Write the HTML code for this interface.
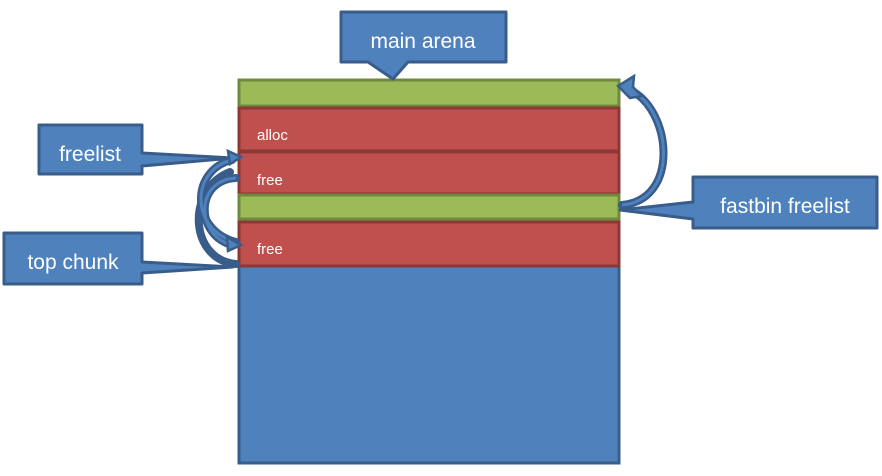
<!DOCTYPE html>
<html><head><style>body{margin:0;background:#fff}svg{display:block}</style></head><body>
<svg width="882" height="476" viewBox="0 0 882 476" xmlns="http://www.w3.org/2000/svg" font-family="Liberation Sans, sans-serif">
<rect x="239" y="266" width="380" height="197" fill="#4f81bd" stroke="#385d8a" stroke-width="3"/>
<rect x="239" y="80" width="380" height="26" fill="#9bbb59" stroke="#71893f" stroke-width="3"/>
<rect x="239" y="108" width="380" height="43" fill="#c0504d" stroke="#8c3836" stroke-width="3"/>
<rect x="239" y="152" width="380" height="42" fill="#c0504d" stroke="#8c3836" stroke-width="3"/>
<rect x="239" y="195" width="380" height="24" fill="#9bbb59" stroke="#71893f" stroke-width="3"/>
<rect x="239" y="222" width="380" height="44" fill="#c0504d" stroke="#8c3836" stroke-width="3"/>
<text x="257" y="140" font-size="15" fill="#fff">alloc</text>
<text x="257" y="185" font-size="15" fill="#fff">free</text>
<text x="257" y="254" font-size="15" fill="#fff">free</text>
<path d="M341,12 H506 V62 H408 L393,79 L368,62 H341 Z" fill="#4f81bd" stroke="#385d8a" stroke-width="3" stroke-linejoin="round"/>
<text x="423" y="48" font-size="21" fill="#fff" text-anchor="middle">main arena</text>
<path d="M39,125 H142 V153 L233,158 L142,166 V174 H39 Z" fill="#4f81bd" stroke="#385d8a" stroke-width="3" stroke-linejoin="round"/>
<text x="90" y="161" font-size="21" fill="#fff" text-anchor="middle">freelist</text>
<path d="M4,233 H142 V262 L233,267 L142,273 V284 H4 Z" fill="#4f81bd" stroke="#385d8a" stroke-width="3" stroke-linejoin="round"/>
<text x="73" y="269" font-size="21" fill="#fff" text-anchor="middle">top chunk</text>
<path d="M693,177 H877 V228 H693 V219 L620,210 L693,202 Z" fill="#4f81bd" stroke="#385d8a" stroke-width="3" stroke-linejoin="round"/>
<text x="785" y="213" font-size="21" fill="#fff" text-anchor="middle">fastbin freelist</text>
<g fill="none" stroke="#385d8a" stroke-width="8" stroke-linecap="round">
<path d="M622,205 C680,200 672,110 630,90"/>
<path d="M236,242 C190,230 190,170 232,160"/>
<path d="M236,178 C195,180 195,235 232,245"/>
<path d="M236,264 C190,260 185,190 230,172"/>
</g>
<g fill="none" stroke="#4f81bd" stroke-width="3">
<path d="M622,205 C680,200 672,110 630,90"/>
<path d="M236,242 C190,230 190,170 232,160"/>
<path d="M236,178 C195,180 195,235 232,245"/>
</g>
<path d="M618,86 L634,76 L633,87 L642,96 L630,98 Z" fill="#4f81bd" stroke="#385d8a" stroke-width="2.5"/>
<path d="M241,157 L228,151 L230,164 Z" fill="#4f81bd" stroke="#385d8a" stroke-width="2.5"/>
<path d="M241,245 L227,237 L228,251 Z" fill="#4f81bd" stroke="#385d8a" stroke-width="2.5"/>
</svg>
</body></html>
